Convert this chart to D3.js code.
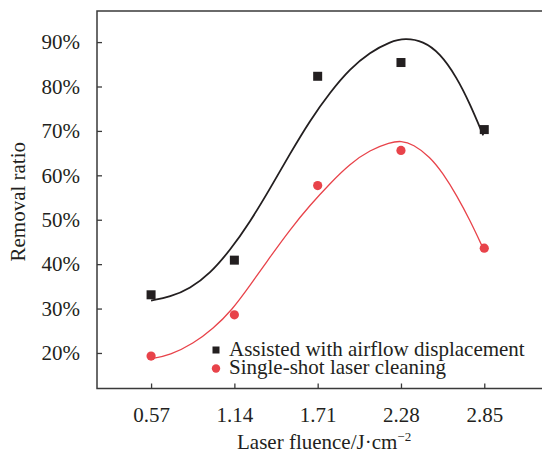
<!DOCTYPE html>
<html>
<head>
<meta charset="utf-8">
<script src="https://cdn.jsdelivr.net/npm/d3@7"></script>
<style>
  html, body { margin: 0; padding: 0; background: #fff; }
  svg { display: block; }
  text { font-family: "Liberation Serif", "Times New Roman", serif; fill: #231f20; }
</style>
</head>
<body>
<svg id="chart" width="542" height="454"></svg>
<script>
// ---- Data ----
const fluence = [0.57, 1.14, 1.71, 2.28, 2.85];
const xTickLabels = ["0.57", "1.14", "1.71", "2.28", "2.85"];
const yTicks = [20, 30, 40, 50, 60, 70, 80, 90];
const airflow = [33.1, 40.9, 82.3, 85.4, 70.3];
const singleShot = [19.3, 28.6, 57.7, 65.6, 43.6];
// fitted curves
const airflowFitX = [0.57, 0.700, 0.837, 0.974, 1.110, 1.247, 1.384, 1.521, 1.658, 1.795, 1.931, 2.068, 2.205, 2.310, 2.432, 2.547, 2.661, 2.752, 2.843];
const airflowFitY = [31.8, 32.6, 34.5, 37.9, 43.1, 49.5, 57.0, 64.9, 72.4, 78.7, 84.0, 87.7, 90.1, 90.9, 90.2, 87.5, 82.1, 76.1, 69.0];
const singleFitX = [0.57, 0.700, 0.859, 0.996, 1.122, 1.247, 1.384, 1.521, 1.658, 1.795, 1.931, 2.068, 2.205, 2.280, 2.364, 2.478, 2.569, 2.661, 2.752, 2.843];
const singleFitY = [18.7, 19.5, 22.1, 25.5, 29.6, 35.2, 41.6, 47.8, 53.3, 58.2, 62.6, 65.7, 67.4, 67.8, 67.0, 64.2, 60.4, 55.5, 49.9, 43.5];
const legendLabels = ["Assisted with airflow displacement", "Single-shot laser cleaning"];

const BLACK = "#231f20", RED = "#e8434a";
const FS = 21;

// ---- Layout ----
const svg = d3.select("#chart");
const mLeft = 97, mRight = 542, mTop = 11, mBottom = 388.5;
const x = d3.scaleLinear().domain([0.2, 3.245]).range([mLeft, mRight]);
const y = d3.scaleLinear().domain([12, 97]).range([mBottom, mTop]);

// frame: left, top, bottom lines
const axisColor = "#3a3a3a";
svg.append("path")
  .attr("d", `M${mRight},${mTop}H${mLeft}V${mBottom}H${mRight}`)
  .attr("fill", "none").attr("stroke", axisColor).attr("stroke-width", 1.5);

// y axis ticks (inward) + labels
const yAxis = d3.axisLeft(y).tickValues(yTicks).tickSizeInner(-5).tickSizeOuter(0)
  .tickPadding(22).tickFormat(d => d + "%");
const gy = svg.append("g").attr("transform", `translate(${mLeft},0)`).call(yAxis);
gy.select(".domain").remove();
gy.selectAll(".tick line").attr("stroke", axisColor).attr("stroke-width", 1.3);
gy.selectAll(".tick text").attr("font-size", FS).attr("font-family", "Liberation Serif")
  .attr("fill", BLACK).attr("x", -17);

// x axis ticks (inward) + labels
const xAxis = d3.axisBottom(x).tickValues(fluence).tickSizeInner(-5).tickSizeOuter(0)
  .tickPadding(0).tickFormat((d, i) => xTickLabels[i]);
const gx = svg.append("g").attr("transform", `translate(0,${mBottom})`).call(xAxis);
gx.select(".domain").remove();
gx.selectAll(".tick line").attr("stroke", axisColor).attr("stroke-width", 1.3);
gx.selectAll(".tick text").attr("font-size", FS).attr("font-family", "Liberation Serif")
  .attr("fill", BLACK).attr("dy", null).attr("y", 33);

// fitted curves
const line = d3.line().x(d => x(d[0])).y(d => y(d[1])).curve(d3.curveBasis);
svg.append("path").datum(airflowFitX.map((v, i) => [v, airflowFitY[i]]))
  .attr("d", line).attr("fill", "none").attr("stroke", BLACK).attr("stroke-width", 1.8);
svg.append("path").datum(singleFitX.map((v, i) => [v, singleFitY[i]]))
  .attr("d", line).attr("fill", "none").attr("stroke", RED).attr("stroke-width", 1.3);

// markers
const sq = 9;
svg.append("g").selectAll("rect").data(fluence).join("rect")
  .attr("x", d => x(d) - sq / 2).attr("y", (d, i) => y(airflow[i]) - sq / 2)
  .attr("width", sq).attr("height", sq).attr("fill", BLACK);
svg.append("g").selectAll("circle").data(fluence).join("circle")
  .attr("cx", d => x(d)).attr("cy", (d, i) => y(singleShot[i])).attr("r", 4.6).attr("fill", RED);

// legend
const lg = svg.append("g");
lg.append("rect").attr("x", 212.5).attr("y", 346.5).attr("width", 7).attr("height", 7).attr("fill", BLACK);
lg.append("text").attr("x", 229).attr("y", 355.5).attr("font-size", FS).text(legendLabels[0]);
lg.append("circle").attr("cx", 216).attr("cy", 368.5).attr("r", 4.2).attr("fill", RED);
lg.append("text").attr("x", 229).attr("y", 373.5).attr("font-size", FS).text(legendLabels[1]);

// axis titles
const xt = svg.append("text").attr("x", 237).attr("y", 449)
  .attr("text-anchor", "start").attr("font-size", FS);
xt.append("tspan").text("Laser fluence/J·cm");
xt.append("tspan").attr("font-size", 13).attr("dy", -8).text("−2");

svg.append("text").attr("transform", `translate(25,${(mTop + mBottom) / 2 + 2}) rotate(-90)`)
  .attr("text-anchor", "middle").attr("font-size", FS).text("Removal ratio");
</script>
</body>
</html>
